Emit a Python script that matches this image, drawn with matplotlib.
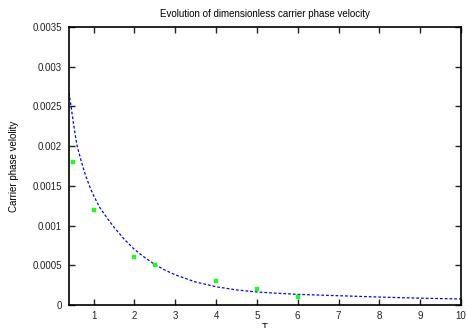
import matplotlib
matplotlib.use("Agg")
import matplotlib.pyplot as plt

# measured data points
data_x = [0.5, 1, 2, 2.5, 4, 5, 6]
data_y = [0.0018, 0.0012, 0.0006, 0.0005, 0.0003, 0.0002, 0.0001]

# fitted curve, values
fit_x = [0.4, 0.45, 0.5, 0.55, 0.6, 0.7, 0.8, 0.9, 1.0, 1.15, 1.34, 1.5, 1.75, 2.0,
         2.25, 2.5, 2.75, 3.0, 3.5, 4.0, 4.5, 5.0, 5.5, 6.0, 7.0, 8.0, 9.0, 10.0]
fit_y = [0.00267, 0.00250, 0.00232, 0.00215, 0.00200, 0.00181, 0.00164, 0.00150, 0.00138, 0.00123,
         0.00109, 0.00098, 0.00083, 0.00070,
         0.00060, 0.00051, 0.00044, 0.00038, 0.00029, 0.00023, 0.00019, 0.000164, 0.000148, 0.000134,
         0.000117, 0.000100, 0.000086, 0.000076]

xticks = [1, 2, 3, 4, 5, 6, 7, 8, 9, 10]
yticks = [0, 0.0005, 0.001, 0.0015, 0.002, 0.0025, 0.003, 0.0035]
ytick_labels = ["0", "0.0005", "0.001", "0.0015", "0.002", "0.0025", "0.003", "0.0035"]

plt.rcParams['font.family'] = ['Liberation Sans', 'DejaVu Sans']

fig = plt.figure(figsize=(4.66, 3.28), dpi=100)
ax = fig.add_axes([69/466, 23/328, (461-69)/466, (305-27)/328])

ax.plot(fit_x, fit_y, color=(0, 0, 1), lw=0.9, ls=(0, (2.2, 1.6)))
ax.plot(data_x, data_y, ls='none', marker='s', ms=2.2, mew=0.3, mfc=(0.1, 1, 0.1), mec=(0.1, 1, 0.1))

ax.set_xlim(0.4, 10)
ax.set_ylim(0, 0.0035)
ax.set_xticks(xticks)
ax.set_xticklabels([str(t) for t in xticks])
ax.set_yticks(yticks)
ax.set_yticklabels(ytick_labels)
ax.tick_params(direction='in', length=4, width=1, labelsize=7, top=True, right=True,
               pad=5, colors='#222222')
ax.tick_params(axis='x', pad=4)
for s in ax.spines.values():
    s.set_linewidth(1.2)
ax.set_title("Evolution of dimensionless carrier phase velocity", fontsize=7, pad=7)
ax.set_xlabel("T", fontsize=7, labelpad=2)
ax.set_ylabel("Carrier phase velolity", fontsize=7, labelpad=10)

fig.savefig("out.png", dpi=100)
